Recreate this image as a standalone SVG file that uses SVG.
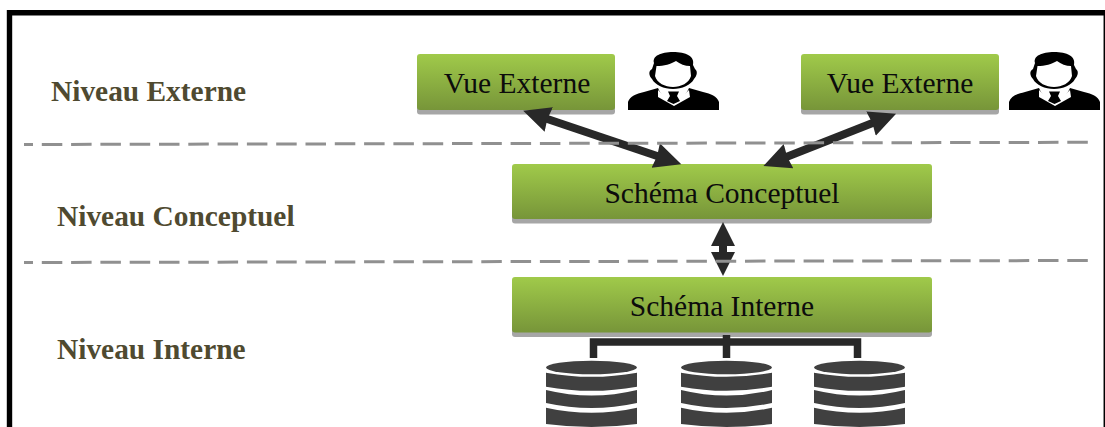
<svg xmlns="http://www.w3.org/2000/svg" width="1105" height="427" viewBox="0 0 1105 427">
<style>
.box{fill:url(#g)}
.sh{fill:#a6a6a6}
.t{font-family:"Liberation Serif","Times New Roman",serif;font-size:29.5px;fill:#0c0c0c;text-anchor:middle}
.l{font-family:"Liberation Serif","Times New Roman",serif;font-size:29.4px;font-weight:bold;fill:#4f4a30}
.a{stroke:#282828;stroke-width:8;fill:none;marker-start:url(#h);marker-end:url(#h)}
.v{stroke:#282828;stroke-width:8;fill:none;marker-start:url(#h2);marker-end:url(#h2)}
.d{stroke:#909090;stroke-width:3;fill:none;stroke-dasharray:20.500 8.800;stroke-dashoffset:11.500}
.c{stroke:#282828;stroke-width:7.500;fill:none}
</style>
<defs>
<linearGradient id="g" x1="0" y1="0" x2="0" y2="1"><stop offset="0" stop-color="#a0ca4a"/><stop offset="1" stop-color="#779539"/></linearGradient>
<marker id="h" markerUnits="userSpaceOnUse" markerWidth="28" markerHeight="28" viewBox="0 0 28 28" refX="14" refY="14" orient="auto-start-reverse"><path d="M0 1L27 14L0 27L1.500 14Z" fill="#282828"/></marker>
<marker id="h2" markerUnits="userSpaceOnUse" markerWidth="24" markerHeight="24" viewBox="0 0 24 24" refX="10" refY="12" orient="auto-start-reverse"><path d="M0 0L24 12L0 24Z" fill="#282828"/></marker>
<g id="person">
<path fill="#000" d="M628 110V102C630 96 636 94 644 92L658 88C661 95 665 99 673 100C681 99 686 95 689 88L703 92C711 94 717 96 719 102V110Z"/>
<path fill="#000" d="M654 63C652 56 661 52 673 52C686 52 695 56 693 65L695 69C698 71 697 76 694 79C691 85 682 89 673 89C664 89 655 85 652 79C649 76 648 71 652 69Z"/>
<path fill="#fff" d="M656.500 66C664 66 671 64 676 61C680 64 685 66 690 66L691 76C689 83 681 87 673 87C665 87 657 83 655 76Z"/>
<path fill="#fff" d="M658 90C663 95 667 97 673 97C679 97 684 95 689 90L690 97L674 106L658 97Z"/>
<path fill="#000" d="M668 91.500H679L677 96L680 101L673.500 104L667 101L670 96Z"/>
</g>
<g id="db">
<ellipse cx="0" cy="367.500" rx="45.500" ry="6.800" fill="#404040"/>
<path fill="#404040" d="M-45.500 372.700Q0 381 45.500 372.700V386.700Q0 395-45.500 386.700Z"/>
<path fill="#404040" d="M-45.500 390Q0 401 45.500 390V403Q0 413-45.500 403Z"/>
<path fill="#404040" d="M-45.500 407.700Q0 418 45.500 407.700V424Q0 430-45.500 424Z"/>
</g>
</defs>
<rect width="1105" height="427" fill="#fff"/>
<path d="M9.500 427V12.700H1105" fill="none" stroke="#000" stroke-width="5.400"/>
<path d="M1104.300 15V427" fill="none" stroke="#000" stroke-width="1.500"/>
<text class="l" x="51" y="100.500">Niveau Externe</text>
<text class="l" x="57" y="225.500">Niveau Conceptuel</text>
<text class="l" x="57" y="358.500">Niveau Interne</text>
<g id="vue1"><rect class="sh" x="417" y="58" width="198" height="56.500" rx="3"/><rect class="box" x="417" y="54" width="198" height="56" rx="3"/><text class="t" x="517" y="93">Vue Externe</text></g>
<g id="vue2"><rect class="sh" x="801" y="58" width="198" height="56.500" rx="3"/><rect class="box" x="801" y="54" width="198" height="56" rx="3"/><text class="t" x="900" y="93">Vue Externe</text></g>
<g id="conceptuel"><rect class="sh" x="512" y="168" width="420" height="55.500" rx="3"/><rect class="box" x="512" y="164" width="420" height="55" rx="3"/><text class="t" x="722" y="203">Schéma Conceptuel</text></g>
<g id="interne"><rect class="sh" x="512" y="281" width="420" height="56" rx="3"/><rect class="box" x="512" y="277" width="420" height="55.500" rx="3"/><text class="t" x="722" y="316">Schéma Interne</text></g>
<g id="user1"><use href="#person"/></g>
<g id="user2"><use href="#person" x="381"/></g>
<g id="db1"><use href="#db" x="591.500"/></g>
<g id="db2"><use href="#db" x="726.500"/></g>
<g id="db3"><use href="#db" x="859.500"/></g>
<g id="connectors">
<line class="a" x1="535.500" y1="115" x2="669" y2="160"/>
<line class="a" x1="775.500" y1="161.300" x2="884" y2="118.500"/>
<line class="v" x1="723" y1="236" x2="723" y2="262"/>
<path class="c" d="M593.500 358V342H857.500V358M726.500 335V358"/>
</g>
<line class="d" x1="24" y1="144.500" x2="1090" y2="142.300"/>
<line class="d" x1="24" y1="262.500" x2="1090" y2="260.500"/>
</svg>
